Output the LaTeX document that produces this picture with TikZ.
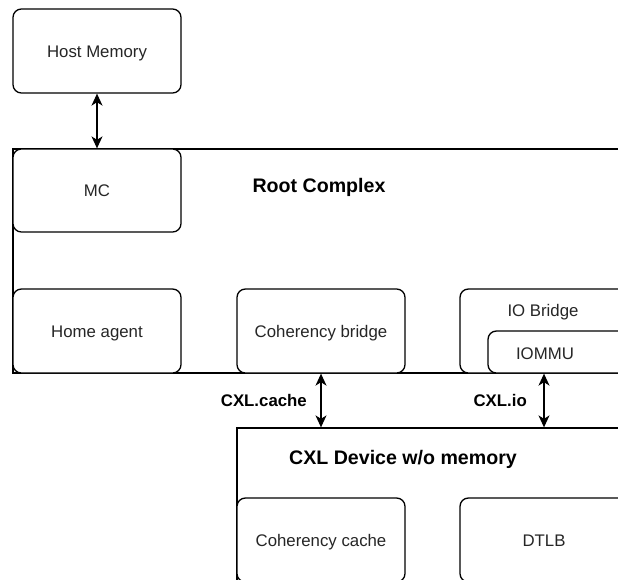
\documentclass[tikz,border=0pt]{standalone}
\usepackage{fontspec}
\setmainfont{Liberation Sans}
\usetikzlibrary{arrows.meta}
\begin{document}
\begin{tikzpicture}[x=1pt,y=-1pt,
  box/.style={draw=black, line width=1.3pt, fill=white, rounded corners=8.4pt,
    minimum width=168pt, minimum height=84pt, inner sep=0pt,
    text height=12pt, text depth=0pt,
    font=\fontsize{16.8}{20}\selectfont, text=black!85},
  frame/.style={draw=black, line width=1.3pt, fill=white, inner sep=0pt},
  plain/.style={inner sep=0pt, text height=12pt, text depth=0pt,
    font=\fontsize{16.8}{20}\selectfont, text=black!85},
  title/.style={inner sep=0pt, text height=14pt, text depth=0pt,
    font=\fontsize{19.6}{23}\selectfont\bfseries},
  link/.style={inner sep=0pt, text height=12pt, text depth=0pt,
    font=\fontsize{16.8}{20}\selectfont\bfseries},
  tip/.style={Stealth[length=12pt,width=11pt,inset=3.5pt]},
  dbl/.style={line width=1.3pt, {Stealth[length=12pt,width=11pt,inset=3.5pt]}-{Stealth[length=12pt,width=11pt,inset=3.5pt]}}
]
\useasboundingbox (0,0) rectangle (618,579);
\fill[white] (0,0) rectangle (618,579);
\clip (0,0) rectangle (618,579);

% containers running off the page edge
\node[frame, minimum width=647pt, minimum height=224pt] (rc) at (336.5,261) {};
\node[frame, minimum width=420pt, minimum height=200pt] (dev) at (447,528) {};

% host side
\node[box] (hm) at (97,51) {Host Memory};
\node[box, minimum height=83pt] (mc) at (97,190.5) {MC};
\node[title] (rctitle) at (319,185) {Root Complex};
\node[box] (ha) at (97,331) {Home agent};
\node[box] (cb) at (321,331) {Coherency bridge};
\node[box] (iob) at (544,331) {};
\node[plain] (ioblabel) at (543,310) {IO Bridge};
\node[box, minimum height=42pt] (iommu) at (572,352) {};
\node[plain] (iommulabel) at (545,353) {IOMMU};

% device side
\node[title] (devtitle) at (403,457) {CXL Device w/o memory};
\node[box] (cc) at (321,540) {Coherency cache};
\node[box] (dtlb) at (544,540) {DTLB};

% links
\draw[dbl] (hm.south) -- (mc.north);
\draw[dbl] (cb.south) -- (cb.south |- dev.north);
\draw[dbl] (iob.south) -- (iob.south |- dev.north);
\node[link, anchor=east] (lcache) at (307,400) {CXL.cache};
\node[link, anchor=east] (lio) at (527,400) {CXL.io};
\end{tikzpicture}
\end{document}
